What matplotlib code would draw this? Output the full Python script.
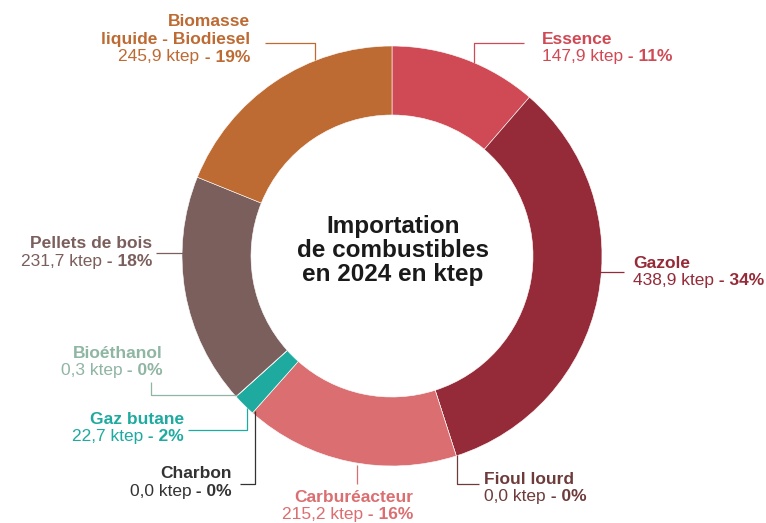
import matplotlib
matplotlib.use("Agg")
import matplotlib.pyplot as plt

plt.rcParams['font.family'] = ['Liberation Sans', 'DejaVu Sans']

categories = ["Essence", "Gazole", "Fioul lourd", "Carburéacteur", "Charbon",
              "Gaz butane", "Bioéthanol", "Pellets de bois", "Biomasse\nliquide - Biodiesel"]
values = [147.9, 438.9, 0.0, 215.2, 0.0, 22.7, 0.3, 231.7, 245.9]
pct_labels = ["11%", "34%", "0%", "16%", "0%", "2%", "0%", "18%", "19%"]
wedge_colors = ["#D04A55", "#952B38", "#6E3B3B", "#DB6E70", "#333333",
                "#1FAAA0", "#8FB5A3", "#7A5F5C", "#BD6A33"]
text_colors = ["#D04A55", "#952B38", "#6E3B3B", "#DB6E70", "#333333",
               "#1FAAA0", "#8FB5A3", "#7A5F5C", "#BD6A33"]

W, H = 766, 523
fig = plt.figure(figsize=(W / 100, H / 100), dpi=100)
ax = fig.add_axes([0, 0, 1, 1])

def Y(y):
    return H - y

cx, cy, R, ring = 392, 256, 210, 69
ax.pie(values, colors=wedge_colors, startangle=90, counterclock=False,
       center=(cx, Y(cy)), radius=R,
       wedgeprops=dict(width=ring, edgecolor='white', linewidth=0.4))
ax.set_xlim(0, W)
ax.set_ylim(0, H)
ax.set_aspect('equal')
ax.axis('off')

for k, line in enumerate(["Importation", "de combustibles", "en 2024 en ktep"]):
    ax.text(cx + 1, Y(227 + k * 23.5), line, ha='center', va='center',
            fontsize=17.5, fontweight='bold', color='#1a1a1a')

fig.canvas.draw()
renderer = fig.canvas.get_renderer()
inv = ax.transData.inverted()
FS = 12.5
LS = 17.5

def label(i, x, y, ha):
    name = categories[i]
    col = text_colors[i]
    nlines = name.count("\n") + 1
    for k, part in enumerate(name.split("\n")):
        ax.text(x, Y(y + k * LS), part, ha=ha, va='center', fontsize=FS,
                fontweight='bold', color=col)
    y2 = y + nlines * LS
    val = f"{values[i]:.1f}".replace('.', ',') + " ktep"
    pct = " - " + pct_labels[i]
    if ha == 'left':
        t = ax.text(x, Y(y2), val, ha='left', va='center', fontsize=FS, color=col)
        bb = t.get_window_extent(renderer)
        xe = inv.transform((bb.x1, 0))[0]
        ax.text(xe, Y(y2), pct, ha='left', va='center', fontsize=FS,
                fontweight='bold', color=col)
    else:
        t = ax.text(x, Y(y2), pct, ha='right', va='center', fontsize=FS,
                    fontweight='bold', color=col)
        bb = t.get_window_extent(renderer)
        xs = inv.transform((bb.x0, 0))[0]
        ax.text(xs, Y(y2), val, ha='right', va='center', fontsize=FS, color=col)

def leader(i, pts):
    xs = [p[0] for p in pts]
    ys = [Y(p[1]) for p in pts]
    ax.plot(xs, ys, color=text_colors[i], lw=0.9, solid_capstyle='butt')

# Essence
label(0, 542, 39, 'left')
leader(0, [(524, 43), (474, 43), (474, 63)])
# Gazole
label(1, 633, 263, 'left')
leader(1, [(624, 272), (600, 272)])
# Fioul lourd
label(2, 484, 479, 'left')
leader(2, [(479, 484), (457, 484), (457, 455)])
# Carburéacteur
label(3, 413, 497, 'right')
leader(3, [(357, 465), (357, 484)])
# Charbon
label(4, 232, 474, 'right')
leader(4, [(240, 484), (255, 484), (255, 411)])
# Gaz butane
label(5, 184, 419, 'right')
leader(5, [(188, 430), (247, 430), (247, 408)])
# Bioéthanol
label(6, 163, 353, 'right')
leader(6, [(151, 382), (151, 395), (237, 395)])
# Pellets de bois
label(7, 152, 244, 'right')
leader(7, [(156, 253), (184, 253)])
# Biomasse
label(8, 250, 22, 'right')
leader(8, [(265, 43), (315, 43), (315, 60)])

fig.savefig("out.png", dpi=100)
